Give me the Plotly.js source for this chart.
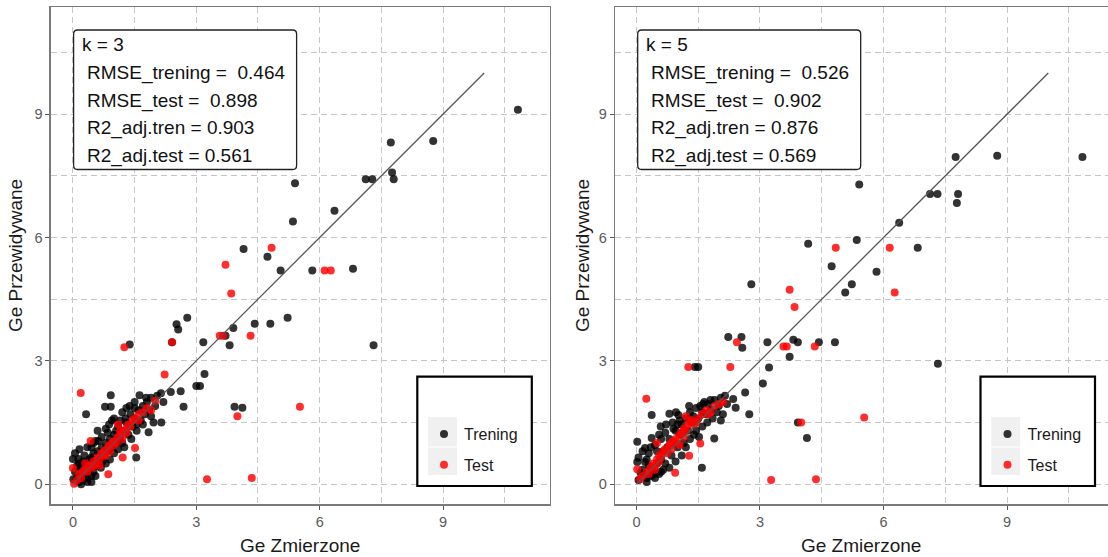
<!DOCTYPE html>
<html>
<head>
<meta charset="utf-8">
<script src="https://cdn.plot.ly/plotly-3.0.1.min.js"></script>
<style>html,body{margin:0;padding:0;background:#fff;}#chart{width:1108px;height:557px;}</style>
</head>
<body>
<div id="chart"></div>
<script>
// ---------------- DATA ----------------
const seriesNames = ["Trening", "Test"];
const xAxisTitle = "Ge Zmierzone";
const yAxisTitle = "Ge Przewidywane";
const tickValues = [0, 3, 6, 9];
const tickLabels = ["0", "3", "6", "9"];
const minorTickValues = [1.5, 4.5, 7.5, 10.5];
const identityX = [0, 10];
const identityY = [0, 10];

const statsK3 = ["k = 3", "RMSE_trening =\u00a0 0.464", "RMSE_test =\u00a0 0.898", "R2_adj.tren = 0.903", "R2_adj.test = 0.561"];
const statsK5 = ["k = 5", "RMSE_trening =\u00a0 0.526", "RMSE_test =\u00a0 0.902", "R2_adj.tren = 0.876", "R2_adj.test = 0.569"];

// k = 3, training
const k3TrainX = [10.82,7.73,8.76,7.12,7.28,7.76,7.80,5.40,6.36,5.35,4.15,4.73,5.05,5.82,6.81,5.22,4.42,4.80,3.90,3.71,3.81,3.17,7.31,3.20,3.09,3.93,4.12,2.78,2.52,2.56,2.41,1.38,
  0.01,0.00,0.13,0.16,0.05,0.10,0.15,0.20,0.25,0.30,0.35,0.10,0.20,0.30,0.40,0.45,0.50,0.28,0.40,0.45,0.55,0.60,0.32,0.50,0.60,
  0.65,0.70,0.75,0.80,0.85,0.90,0.95,1.00,0.70,0.78,0.92,0.92,0.60,0.80,0.90,1.00,1.05,1.10,1.15,1.20,1.25,1.00,1.15,0.55,0.85,
  1.30,1.35,1.40,1.45,1.50,1.55,1.60,1.62,1.65,1.70,1.75,1.80,1.84,1.85,1.90,1.96,2.00,2.05,2.15,2.14,2.20,2.38,2.62,2.69,1.54,1.30,1.20,1.50,3.00,
  0.05,0.15,0.25,0.35,0.45,0.50,0.62,0.68,0.72,0.80,0.88,0.95,1.05,1.10,1.20,1.28,1.38,1.42,1.50,1.55,1.70,1.78,1.90,0.35,0.55,0.45,0.20];
const k3TrainY = [9.11,8.31,8.35,7.42,7.42,7.58,7.42,7.32,6.65,6.39,5.72,5.53,5.20,5.20,5.24,4.05,3.90,3.90,3.80,3.61,3.38,3.45,3.38,2.68,2.39,1.88,1.86,4.05,3.89,3.76,3.45,3.40,
  0.12,0.61,0.61,0.85,0.30,0.15,0.05,0.20,0.10,0.25,0.15,0.45,0.40,0.50,0.35,0.20,0.30,0.70,0.60,0.90,0.50,0.45,1.70,0.75,0.80,
  0.60,0.90,0.70,1.00,0.80,1.10,0.90,1.20,1.15,1.88,1.88,2.16,1.30,1.35,0.60,0.75,1.00,1.40,1.10,1.30,0.90,1.60,1.55,1.05,1.25,
  1.50,1.20,1.70,1.40,1.60,1.30,1.80,2.16,1.55,1.90,1.70,2.00,1.26,1.80,2.10,1.50,1.90,2.15,1.50,2.21,2.00,2.24,2.26,1.88,0.65,1.85,1.75,2.00,2.39,
  0.75,0.50,0.55,0.90,0.65,1.00,1.05,0.40,0.55,0.50,1.45,1.55,1.30,0.85,1.00,1.60,1.90,1.10,1.85,1.45,1.45,2.10,1.65,0.05,0.20,0.05,0.00];

// k = 3, test
const k3TestX = [4.83,3.71,3.85,6.12,6.27,3.57,3.65,4.32,4.00,5.52,3.26,4.35,2.41,1.25,2.23,0.19,
  0.03,0.00,0.10,0.15,0.20,0.25,0.30,0.35,0.40,0.43,0.45,0.50,0.55,0.60,0.65,0.70,0.75,0.80,0.85,0.86,0.90,0.95,1.00,1.05,1.10,1.15,1.21,1.20,1.25,1.30,1.35,1.40,1.45,1.51,1.50,1.60,1.70,1.80,1.90,2.00,1.10,0.30,0.65,
  0.50,0.75,1.00,1.30,1.60,0.90,1.15];
const k3TestY = [5.75,5.34,4.64,5.20,5.20,3.61,3.61,3.61,1.65,1.88,0.12,0.15,3.45,3.33,2.67,2.22,
  0.01,0.39,0.10,0.25,0.15,0.30,0.35,0.30,0.45,1.05,0.40,0.55,0.50,0.65,0.60,0.75,0.80,0.70,0.90,0.24,0.95,1.00,1.05,1.00,1.15,1.20,0.65,1.10,1.30,1.35,1.45,1.40,1.55,0.88,1.60,1.70,1.75,1.85,1.80,2.03,1.45,0.50,0.45,
  0.45,0.70,0.95,1.25,1.55,0.80,1.30];

// k = 5, training
const k5TrainX = [10.83,7.75,8.76,5.41,7.13,7.31,7.81,7.78,6.38,4.17,5.35,6.83,4.74,5.83,5.23,5.07,3.18,3.81,3.92,4.43,4.82,3.72,7.32,3.22,3.07,3.92,4.14,2.79,2.23,2.55,2.57,1.42,1.50,
  0.02,0.21,0.37,0.37,0.02,0.21,0.10,0.37,0.05,0.15,0.25,0.30,0.45,0.50,0.55,0.60,0.59,0.65,0.70,0.75,0.80,0.88,0.96,1.02,0.80,0.85,0.90,0.95,1.00,1.05,1.10,1.15,1.20,1.25,1.30,1.35,1.40,1.45,1.50,1.55,1.59,1.60,1.65,1.70,1.75,1.80,1.89,1.90,2.00,2.05,2.10,2.35,2.41,2.64,2.74,2.15,0.45,0.60,1.10,1.30,0.70,1.00,0.30,1.60,1.85,2.20,
  0.05,0.15,0.25,0.35,0.45,0.50,0.55,0.65,0.72,0.80,0.90,0.95,1.05,1.12,1.20,1.28,1.38,1.45,1.52,1.62,1.72,1.80,1.95,2.05,0.25,0.40,0.60];
const k5TrainY = [7.96,7.96,7.99,7.29,7.06,7.06,7.06,6.84,6.36,5.85,5.94,5.75,5.30,5.17,4.86,4.66,3.45,3.51,3.45,3.45,3.45,3.10,2.93,2.84,2.45,1.50,1.12,4.86,3.58,3.58,3.32,2.85,2.85,
  1.03,0.88,1.12,1.68,0.54,0.54,0.28,0.20,0.10,0.35,0.15,0.45,0.30,0.50,0.25,0.60,1.40,0.80,0.50,0.90,1.71,1.50,1.75,1.68,1.10,0.70,1.00,1.30,0.90,1.20,1.45,1.00,1.60,1.30,1.75,1.50,1.20,1.85,1.60,1.90,0.40,1.40,2.00,1.70,1.95,1.80,1.11,2.05,1.90,2.10,1.70,2.07,1.86,2.23,1.70,2.15,0.95,1.10,0.70,1.10,1.25,1.45,0.75,1.75,1.60,1.95,
  0.65,0.80,0.60,0.90,0.15,0.80,1.20,0.35,1.45,0.40,1.35,0.55,1.55,1.25,0.90,1.90,1.65,1.30,1.15,1.95,1.50,2.05,1.75,1.55,0.05,0.25,0.30];

// k = 5, test
const k5TestX = [4.84,6.15,3.72,3.84,6.27,3.57,3.65,4.33,4.00,5.53,3.27,4.36,2.44,1.26,2.28,0.24,
  0.02,0.09,0.94,1.28,1.55,0.15,0.25,0.30,0.35,0.40,0.45,0.50,0.55,0.60,0.65,0.70,0.75,0.80,0.85,0.90,0.95,1.00,1.05,1.10,1.15,1.20,1.25,1.30,1.35,1.40,1.50,1.60,1.70,1.80,1.90,2.00,2.10,0.50,1.20,
  0.55,0.85,1.15,1.45,1.75,0.45,1.05];
const k5TestY = [5.75,5.75,4.73,4.31,4.66,3.35,3.35,3.35,1.50,1.62,0.10,0.12,3.45,2.85,2.85,2.08,
  0.36,0.12,0.28,0.69,0.99,0.20,0.30,0.25,0.40,0.50,0.45,0.60,0.70,0.65,0.80,0.85,0.75,0.95,1.00,1.05,1.10,1.00,1.20,1.25,1.35,1.30,1.45,1.50,1.55,1.45,1.60,1.70,1.80,1.75,1.90,1.95,2.00,1.00,1.65,
  0.55,0.85,1.15,1.50,1.70,0.35,0.95];

// ---------------- STYLE ----------------
const W = 1108, H = 557;
const FONT = "Liberation Sans, Arial, sans-serif";
const px = v => v / W;
const py = v => 1 - v / H;
const BLACK = "rgba(0,0,0,0.8)";
const RED = "rgba(255,0,0,0.82)";

function pointTrace(x, y, name, color, xa, ya, leg, grp) {
  return {x: x, y: y, type: "scatter", mode: "markers", name: name, xaxis: xa, yaxis: ya,
    legend: leg, legendgroup: grp,
    marker: {color: color, size: 8, line: {width: 0}}, hoverinfo: "x+y"};
}
function lineTrace(xa, ya) {
  return {x: identityX, y: identityY, type: "scatter", mode: "lines", xaxis: xa, yaxis: ya,
    line: {color: "#555555", width: 1.3}, showlegend: false, hoverinfo: "skip"};
}

const data = [
  pointTrace(k3TrainX, k3TrainY, seriesNames[0], BLACK, "x", "y", "legend", "a"),
  pointTrace(k3TestX, k3TestY, seriesNames[1], RED, "x", "y", "legend", "b"),
  lineTrace("x", "y"),
  pointTrace(k5TrainX, k5TrainY, seriesNames[0], BLACK, "x2", "y2", "legend2", "c"),
  pointTrace(k5TestX, k5TestY, seriesNames[1], RED, "x2", "y2", "legend2", "d"),
  lineTrace("x2", "y2")
];

const GRID = "#c6c6c6";
function axis(domain, range, anchor) {
  return {
    domain: domain, range: range, anchor: anchor, autorange: false,
    tickvals: tickValues, ticktext: tickLabels,
    ticks: "outside", ticklen: 4, tickwidth: 1, tickcolor: "#555",
    tickfont: {family: FONT, size: 14.5, color: "#5a5a5a"},
    showline: true, mirror: true, linecolor: "#7a7a7a", linewidth: 1.3,
    showgrid: true, gridcolor: GRID, gridwidth: 1, griddash: "6px,4px",
    minor: {tickvals: minorTickValues, showgrid: true, gridcolor: GRID, gridwidth: 1, griddash: "6px,4px", ticks: ""},
    zeroline: false, fixedrange: true
  };
}
const yDom = [py(504.3), py(7.3)];

function rrectPath(x0, y0, x1, y1, r) {
  const P = (a, b) => px(a) + "," + py(b);
  return "M" + P(x0 + r, y0) + " L" + P(x1 - r, y0) + " Q" + P(x1, y0) + " " + P(x1, y0 + r) +
    " L" + P(x1, y1 - r) + " Q" + P(x1, y1) + " " + P(x1 - r, y1) +
    " L" + P(x0 + r, y1) + " Q" + P(x0, y1) + " " + P(x0, y1 - r) +
    " L" + P(x0, y0 + r) + " Q" + P(x0, y0) + " " + P(x0 + r, y0) + " Z";
}

const shapes = [];
const annotations = [];
function statsBox(x0, lines) {
  shapes.push({type: "path", xref: "paper", yref: "paper", path: rrectPath(x0, 30, x0 + 223, 169.5, 4),
    line: {color: "#222", width: 1.3}, fillcolor: "white", layer: "above"});
  const ys = [45, 73, 100.7, 128.3, 156];
  lines.forEach((t, i) => annotations.push({xref: "paper", yref: "paper", x: px(x0 + (i === 0 ? 6 : 11.5)), y: py(ys[i]),
    xanchor: "left", yanchor: "middle", text: t, showarrow: false,
    font: {family: FONT, size: 19, color: "#111"}}));
}
function legendBox(x0) {
  shapes.push({type: "rect", xref: "paper", yref: "paper", x0: px(x0), x1: px(x0 + 114.5), y0: py(376.7), y1: py(486),
    line: {color: "black", width: 2.2}, fillcolor: "white", layer: "above"});
  shapes.push({type: "rect", xref: "paper", yref: "paper", x0: px(x0 + 10.7), x1: px(x0 + 39.7), y0: py(417), y1: py(446.5),
    line: {width: 0}, fillcolor: "#f0f0f0", layer: "above"});
  shapes.push({type: "rect", xref: "paper", yref: "paper", x0: px(x0 + 10.7), x1: px(x0 + 39.7), y0: py(447.5), y1: py(475),
    line: {width: 0}, fillcolor: "#f0f0f0", layer: "above"});
}
statsBox(73.6, statsK3);
statsBox(637.7, statsK5);
legendBox(417.3);
legendBox(980.5);

function title(x, y, t, rot) {
  annotations.push({xref: "paper", yref: "paper", x: px(x), y: py(y), xanchor: "center", yanchor: "middle",
    text: t, showarrow: false, textangle: rot, font: {family: FONT, size: 19, color: "#1a1a1a"}});
}
title(300.4, 545, xAxisTitle, 0);
title(861.5, 545, xAxisTitle, 0);
title(15, 256, yAxisTitle, -90);
title(582, 256, yAxisTitle, -90);

function legendCfg(x) {
  return {x: px(x), y: py(417), xanchor: "left", yanchor: "top", bgcolor: "rgba(0,0,0,0)", borderwidth: 0,
    font: {family: FONT, size: 16, color: "#1a1a1a"}, tracegroupgap: 7, traceorder: "grouped",
    itemclick: false, itemdoubleclick: false};
}

const layout = {
  width: W, height: H,
  margin: {l: 0, r: 0, t: 0, b: 0, pad: 0},
  paper_bgcolor: "white", plot_bgcolor: "white",
  font: {family: FONT},
  showlegend: true,
  xaxis: axis([px(50.7), px(550)], [-0.54, 11.6], "y"),
  yaxis: axis(yDom, [-0.49, 11.6], "x"),
  xaxis2: axis([px(615), 1], [-0.52, 11.45], "y2"),
  yaxis2: axis(yDom, [-0.49, 11.6], "x2"),
  legend: legendCfg(424),
  legend2: legendCfg(987.5),
  shapes: shapes,
  annotations: annotations
};

Plotly.newPlot("chart", data, layout, {displayModeBar: false, staticPlot: true});
</script>
</body>
</html>
